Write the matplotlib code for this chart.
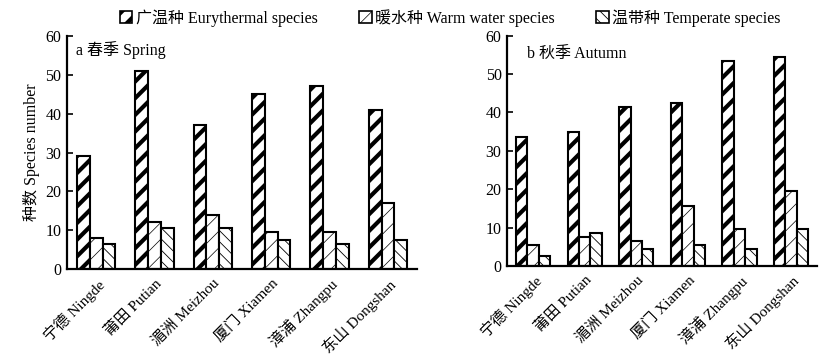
import numpy as np
import matplotlib
matplotlib.use("Agg")
import matplotlib.pyplot as plt

plt.rcParams['font.family'] = ['Liberation Serif', 'Noto Sans CJK SC']
plt.rcParams['font.size'] = 11.5

sites = ["宁德 Ningde", "莆田 Putian", "湄洲 Meizhou", "厦门 Xiamen", "漳浦 Zhangpu", "东山 Dongshan"]
series = ["广温种 Eurythermal species", "暖水种 Warm water species", "温带种 Temperate species"]

spring_eury = [29, 51, 37, 45, 47, 41]
spring_warm = [8, 12, 14, 9.5, 9.5, 17]
spring_temp = [6.5, 10.5, 10.5, 7.5, 6.5, 7.5]

autumn_eury = [33.5, 35, 41.5, 42.5, 53.5, 54.5]
autumn_warm = [5.5, 7.5, 6.5, 15.5, 9.5, 19.5]
autumn_temp = [2.5, 8.5, 4.5, 5.5, 4.5, 9.5]

hatches = ["//", "//", "\\\\\\"]
hatch_lw = [3.0, 0.5, 0.6]

fig = plt.figure(figsize=(8.26, 3.56), dpi=100)
ax1 = fig.add_axes([0.081, 0.244, 0.424, 0.655])
ax2 = fig.add_axes([0.614, 0.253, 0.375, 0.647])


def draw(ax, data, label, pos):
    x = np.arange(len(sites))
    w = 0.22
    conts = []
    for i, vals in enumerate(data):
        with plt.rc_context({'hatch.linewidth': hatch_lw[i]}):
            bars = ax.bar(x + (i - 1) * w, vals, w, color="white", edgecolor="black",
                          linewidth=1.5, hatch=hatches[i])
        for b in bars:
            try:
                b.set_hatch_linewidth(hatch_lw[i])
            except AttributeError:
                pass
        conts.append(bars)
    ax.set_xlim(-0.5, len(sites) - 0.5)
    ax.set_ylim(0, 60)
    ax.set_yticks(range(0, 61, 10))
    ax.set_xticks(x)
    ax.set_xticklabels(sites, rotation=45, ha="right", rotation_mode="anchor", fontsize=11)
    ax.tick_params(axis="x", length=0, pad=5)
    ax.tick_params(axis="y", direction="in", length=4, width=1.2, pad=4)
    for s in ["top", "right"]:
        ax.spines[s].set_visible(False)
    for s in ["left", "bottom"]:
        ax.spines[s].set_linewidth(1.6)
    ax.text(pos[0], pos[1], label, transform=ax.transAxes, va="center", ha="left")
    return conts


conts = draw(ax1, [spring_eury, spring_warm, spring_temp], "a 春季 Spring", (0.025, 0.94))
draw(ax2, [autumn_eury, autumn_warm, autumn_temp], "b 秋季 Autumn", (0.065, 0.92))
ax1.set_ylabel("种数 Species number", labelpad=4)

leg = fig.legend(conts, series, loc="upper center", bbox_to_anchor=(0.545, 1.015), ncol=3,
                 frameon=False, handlelength=0.8, handleheight=0.8, handletextpad=0.2,
                 columnspacing=2.6)
for i, p in enumerate(leg.get_patches()):
    p.set_linewidth(1.2)
    try:
        p.set_hatch_linewidth(hatch_lw[i])
    except AttributeError:
        pass

fig.savefig("out.png", dpi=100)
